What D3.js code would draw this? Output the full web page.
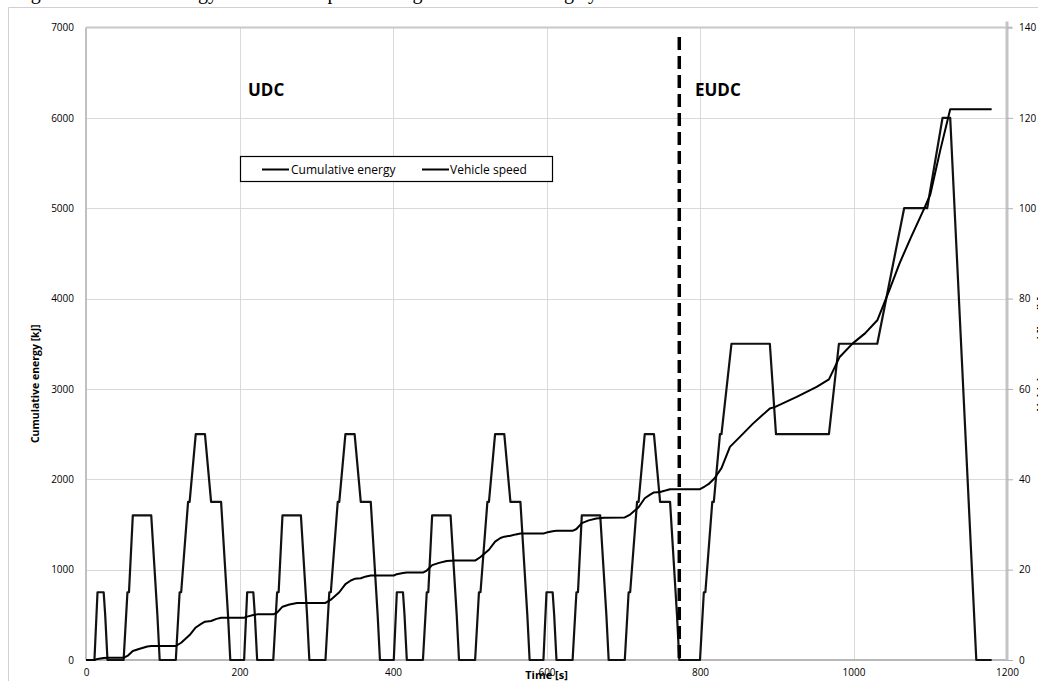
<!DOCTYPE html>
<html>
<head>
<meta charset="utf-8">
<script src="https://cdn.jsdelivr.net/npm/d3@7"></script>
<style>
  html, body { margin: 0; padding: 0; background: #fff; }
  svg { display: block; }
  text { font-family: "Open Sans", "Liberation Sans", sans-serif; fill: #000; }
</style>
</head>
<body>
<svg id="chart" width="1038" height="681"></svg>
<script>
// ---- axis ticks ----
const timeTicks   = [0, 200, 400, 600, 800, 1000, 1200];
const energyTicks = [0, 1000, 2000, 3000, 4000, 5000, 6000, 7000];
const speedTicks  = [0, 20, 40, 60, 80, 100, 120, 140];

// ---- vehicle speed [km/h] over time [s], one array per cycle ----
const speedUdc1 = [[0,0],[11,0],[15,15],[23,15],[25,10],[28,0],[49,0],[54,15],[56,15],[61,32],[85,32],[93,10],[96,0],
  [117,0],[122,15],[124,15],[133,35],[135,35],[143,50],[155,50],[163,35],[176,35],[185,10],[188,0],[195,0]];
const speedUdc2 = [[195,0],[206,0],[210,15],[218,15],[220,10],[223,0],[244,0],[249,15],[251,15],[256,32],[280,32],[288,10],[291,0],
  [312,0],[317,15],[319,15],[328,35],[330,35],[338,50],[350,50],[358,35],[371,35],[380,10],[383,0],[390,0]];
const speedUdc3 = [[390,0],[401,0],[405,15],[413,15],[415,10],[418,0],[439,0],[444,15],[446,15],[451,32],[475,32],[483,10],[486,0],
  [507,0],[512,15],[514,15],[523,35],[525,35],[533,50],[545,50],[553,35],[566,35],[575,10],[578,0],[585,0]];
const speedUdc4 = [[585,0],[596,0],[600,15],[608,15],[610,10],[613,0],[634,0],[639,15],[641,15],[646,32],[670,32],[678,10],[681,0],
  [702,0],[707,15],[709,15],[718,35],[720,35],[728,50],[740,50],[748,35],[761,35],[770,10],[773,0],[780,0]];
const speedEudc = [[780,0],[800,0],[805,15],[807,15],[816,35],[818,35],[826,50],[828,50],[841,70],[891,70],[899,50],
  [968,50],[981,70],[1031,70],[1066,100],[1096,100],[1116,120],[1126,120],[1160,0],[1180,0]];

// ---- cumulative energy [kJ] over time [s] ----
const energyUdc1 = [[0,0],[11,0],[15,12],[23,22],[28,25],[49,25],[54,45],[61,100],[70,125],[80,150],[85,155],[117,155],
  [124,191],[135,276],[143,360],[150,400],[155,424],[163,432],[170,455],[176,468],[195,468]];
const energyUdc2 = [[206,468],[210,480],[218,497],[223,505],[244,505],[249,525],[256,590],[265,615],[275,630],[280,632],[312,632],
  [319,668],[330,750],[338,840],[345,880],[350,898],[358,905],[365,925],[371,935],[390,935]];
const energyUdc3 = [[401,935],[405,950],[413,962],[418,968],[439,968],[444,990],[451,1050],[460,1075],[470,1095],[480,1100],[507,1100],
  [514,1140],[525,1220],[533,1310],[540,1350],[545,1365],[553,1375],[560,1390],[566,1400],[585,1400]];
const energyUdc4 = [[596,1400],[600,1410],[608,1425],[613,1430],[634,1430],[639,1450],[646,1515],[655,1545],[665,1565],[675,1575],[702,1578],
  [709,1610],[720,1690],[728,1790],[735,1830],[740,1855],[748,1860],[755,1875],[761,1890],[780,1890]];
const energyEudc = [[800,1891],[806,1920],[811,1946],[819,2012],[828,2123],[839,2359],[852,2469],[869,2616],[891,2784],[898,2801],
  [926,2912],[952,3023],[968,3106],[982,3354],[999,3504],[1015,3615],[1031,3760],[1047,4100],[1060,4390],[1075,4680],
  [1091,4976],[1100,5150],[1113,5640],[1126,6095],[1180,6095]];

// boundary between urban and extra-urban parts [s]
const cycleBoundary = 773;
const phaseLabels = [["UDC", 248], ["EUDC", 695]];
const legendItems = ["Cumulative energy", "Vehicle speed"];
const captionText = "Fig. 6  Cumulative energy and vehicle speed during the NEDC driving cycle";

// ---- layout ----
const svg = d3.select("#chart");
const plot = { left: 86, right: 1007, top: 27.5, bottom: 660 };

const x  = d3.scaleLinear().domain([0, 1200]).range([plot.left, plot.right]);
const yE = d3.scaleLinear().domain([0, 7000]).range([plot.bottom, plot.top]);
const yV = d3.scaleLinear().domain([0, 140]).range([plot.bottom, plot.top]);
const plain = d3.format("d");

// caption line above the frame (only its lower edge lies on the page)
svg.append("text").attr("x", 14).attr("y", -1.5)
  .style("font-family", "'Liberation Serif', serif").style("font-size", "20px").attr("fill", "#222")
  .text(captionText);

// outer chart frame
svg.append("path")
  .attr("d", "M8.5,681 L8.5,7.5 L1038,7.5")
  .attr("fill", "none").attr("stroke", "#d0d0d0").attr("stroke-width", 1);

// gridlines
const grid = svg.append("g");
grid.selectAll(".hg").data(energyTicks.filter(d => d > 0 && d < 7000)).join("line")
  .attr("x1", plot.left).attr("x2", plot.right)
  .attr("y1", d => Math.round(yE(d)) + 0.5).attr("y2", d => Math.round(yE(d)) + 0.5)
  .attr("stroke", "#d9d9d9").attr("stroke-width", 1);
grid.selectAll(".vg").data(timeTicks.filter(d => d > 0 && d < 1200)).join("line")
  .attr("y1", plot.top).attr("y2", plot.bottom)
  .attr("x1", d => Math.round(x(d)) + 0.5).attr("x2", d => Math.round(x(d)) + 0.5)
  .attr("stroke", "#d9d9d9").attr("stroke-width", 1);
// top border of plot area
grid.append("line").attr("x1", plot.left).attr("x2", plot.right + 5)
  .attr("y1", yE(7000)).attr("y2", yE(7000))
  .attr("stroke", "#c8c8c8").attr("stroke-width", 2);

// axes lines
svg.append("line").attr("x1", plot.left).attr("x2", plot.left)
  .attr("y1", plot.top).attr("y2", plot.bottom)
  .attr("stroke", "#c0c0c0").attr("stroke-width", 2);
svg.append("line").attr("x1", plot.left).attr("x2", plot.right)
  .attr("y1", plot.bottom).attr("y2", plot.bottom)
  .attr("stroke", "#b8b8b8").attr("stroke-width", 2);
svg.append("line").attr("x1", plot.right).attr("x2", plot.right)
  .attr("y1", plot.top - 6).attr("y2", plot.bottom)
  .attr("stroke", "#c4c4c4").attr("stroke-width", 3);

const tickFont = sel => sel.selectAll("text")
  .style("font-size", "10px").style("font-family", "'Open Sans', sans-serif").attr("fill", "#222");

// left axis labels
const leftAxis = d3.axisLeft(yE).tickValues(energyTicks).tickFormat(plain).tickSize(0).tickPadding(12);
svg.append("g").attr("transform", `translate(${plot.left},0)`).call(leftAxis)
  .call(g => g.select(".domain").remove())
  .call(tickFont);

// right axis with short ticks
const rightAxis = d3.axisRight(yV).tickValues(speedTicks).tickFormat(plain).tickSize(6).tickPadding(6);
svg.append("g").attr("transform", `translate(${plot.right},0)`).call(rightAxis)
  .call(g => g.select(".domain").remove())
  .call(g => g.selectAll("line").attr("stroke", "#b0b0b0"))
  .call(tickFont);

// bottom axis labels
const bottomAxis = d3.axisBottom(x).tickValues(timeTicks).tickFormat(plain).tickSize(0).tickPadding(9);
svg.append("g").attr("transform", `translate(0,${plot.bottom})`).call(bottomAxis)
  .call(g => g.select(".domain").remove())
  .call(tickFont);

// axis titles
svg.append("text").attr("x", x(600)).attr("y", 679).attr("text-anchor", "middle")
  .style("font-size", "11px").style("font-weight", "bold").text("Time [s]");
svg.append("text").attr("transform", `translate(39,${(plot.top + plot.bottom) / 2 + 40}) rotate(-90)`)
  .attr("text-anchor", "middle").style("font-size", "10.5px").style("font-weight", "bold")
  .text("Cumulative energy [kJ]");
svg.append("text").attr("transform", `translate(1045,${(plot.top + plot.bottom) / 2 + 10}) rotate(-90)`)
  .attr("text-anchor", "middle").style("font-size", "11px").style("font-weight", "bold")
  .text("Vehicle speed [km/h]");

// series lines
const lineE = d3.line().x(d => x(d[0])).y(d => yE(d[1]));
const lineV = d3.line().x(d => x(d[0])).y(d => yV(d[1]));
const speedSeries = [].concat(speedUdc1, speedUdc2, speedUdc3, speedUdc4, speedEudc);
const energySeries = [].concat(energyUdc1, energyUdc2, energyUdc3, energyUdc4, energyEudc);

svg.append("path").datum(speedSeries).attr("d", lineV)
  .attr("fill", "none").attr("stroke", "#111").attr("stroke-width", 2.2).attr("stroke-linejoin", "round");
svg.append("path").datum(energySeries).attr("d", lineE)
  .attr("fill", "none").attr("stroke", "#000").attr("stroke-width", 2).attr("stroke-linejoin", "round");

// dashed boundary
svg.append("line").attr("x1", x(cycleBoundary)).attr("x2", x(cycleBoundary))
  .attr("y1", 37).attr("y2", plot.bottom)
  .attr("stroke", "#000").attr("stroke-width", 3.5).attr("stroke-dasharray", "13,6");

// phase labels
svg.selectAll(".phase").data(phaseLabels).join("text")
  .attr("x", d => d[1]).attr("y", 96)
  .style("font-size", "17px").style("font-weight", "bold").text(d => d[0]);

// legend
const lg = svg.append("g");
lg.append("rect").attr("x", 240.5).attr("y", 156.5).attr("width", 312).attr("height", 25)
  .attr("fill", "#fff").attr("stroke", "#000").attr("stroke-width", 1.2);
const legendPos = [[262, 291], [422, 450]];
legendItems.forEach((name, i) => {
  lg.append("line").attr("x1", legendPos[i][0]).attr("x2", legendPos[i][0] + 27)
    .attr("y1", 169.5).attr("y2", 169.5).attr("stroke", "#000").attr("stroke-width", 2);
  lg.append("text").attr("x", legendPos[i][1]).attr("y", 173.5)
    .style("font-size", "12px").text(name);
});
</script>
</body>
</html>
